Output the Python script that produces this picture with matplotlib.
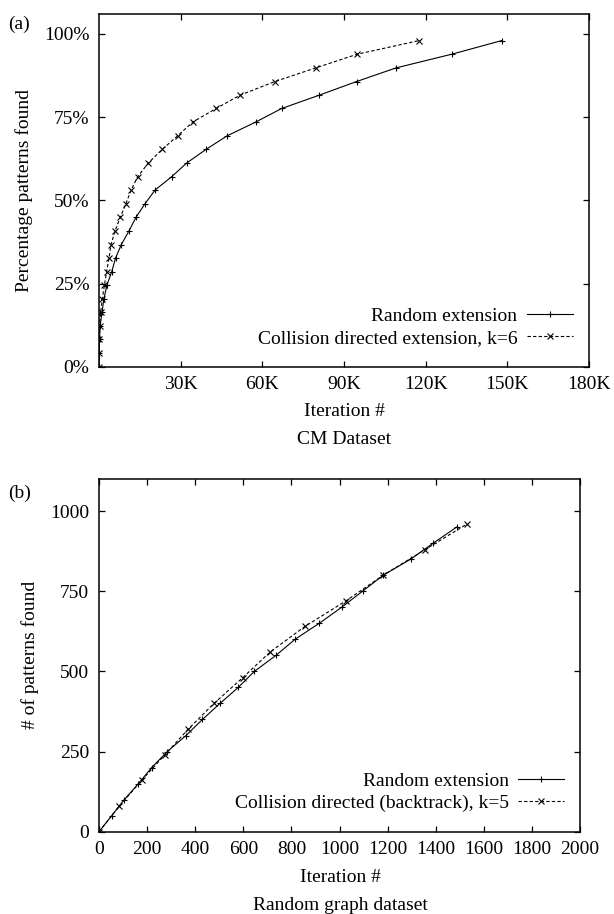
import matplotlib
matplotlib.use('Agg')
import matplotlib.pyplot as plt

plt.rcParams['font.family'] = ['Liberation Serif', 'DejaVu Serif']
plt.rcParams['font.size'] = 14

# (a) CM dataset -- iterations (thousands) vs percentage of patterns found
cm_pct = [0, 4.1, 8.2, 12.2, 16.3, 20.4, 24.5, 28.6, 32.7, 36.7, 40.8, 44.9, 49.0,
          53.1, 57.1, 61.2, 65.3, 69.4, 73.5, 77.6, 81.6, 85.7, 89.8, 93.9, 98.0]
cm_random_k = [0, 0.1, 0.2, 0.4, 1.1, 1.8, 2.9, 4.7, 6.1, 8.2, 11.0, 13.6, 16.9,
               20.6, 26.7, 32.2, 39.3, 47.1, 57.5, 67.1, 80.9, 94.6, 109.1, 129.5, 147.9]
cm_collision_k = [0, 0.05, 0.15, 0.25, 0.6, 1.2, 2.0, 2.8, 3.7, 4.4, 5.9, 7.8, 9.9,
                  11.8, 14.2, 18.1, 23.2, 28.9, 34.4, 43.0, 51.8, 64.6, 79.6, 94.8, 117.5]
cm_xticks = [30, 60, 90, 120, 150, 180]
cm_xticklabels = ['30K', '60K', '90K', '120K', '150K', '180K']
cm_yticks = [0, 25, 50, 75, 100]
cm_yticklabels = ['0%', '25%', '50%', '75%', '100%']

# (b) random graph dataset
rg_random_x = [0, 53, 105, 164, 219, 284, 362, 430, 503, 579, 646, 736, 815, 916,
               1009, 1096, 1182, 1296, 1390, 1487]
rg_random_y = [0, 50, 100, 150, 200, 250, 300, 350, 400, 450, 500, 550, 600, 650,
               700, 750, 800, 850, 900, 950]
rg_collision_x = [0, 85, 177, 274, 371, 478, 597, 711, 856, 1027, 1182, 1356, 1531]
rg_collision_y = [0, 80, 160, 240, 320, 400, 480, 560, 640, 720, 800, 880, 960]
rg_xticks = [0, 200, 400, 600, 800, 1000, 1200, 1400, 1600, 1800, 2000]
rg_yticks = [0, 250, 500, 750, 1000]

W, H = 614, 914


def px_box(left, top, right, bottom):
    return [left / W, 1 - bottom / H, (right - left) / W, (bottom - top) / H]


def style_axes(ax):
    for sp in ax.spines.values():
        sp.set_linewidth(1.1)
    ax.tick_params(direction='in', length=4, width=0.9, top=True, right=True,
                   labelsize=14, pad=7)


def draw_series(ax, x1, y1, x2, y2, lab1, lab2):
    ax.plot(x1, y1, color='black', lw=0.8, marker='+', ms=5, mew=0.8, label=lab1)
    ax.plot(x2, y2, color='black', lw=0.8, ls=(0, (3, 2)), marker='x', ms=4.5,
            mew=0.8, label=lab2)
    ax.legend(loc='lower right', bbox_to_anchor=(0.967, 0.055), frameon=False,
              markerfirst=False, handlelength=2.35, handletextpad=0.5,
              labelspacing=0.25, borderpad=0, borderaxespad=0, fontsize=14)


fig = plt.figure(figsize=(W / 100, H / 100), dpi=100)

ax1 = fig.add_axes(px_box(99, 14, 589, 366.7))
draw_series(ax1, cm_random_k, cm_pct, cm_collision_k, cm_pct,
            'Random extension', 'Collision directed extension, k=6')
ax1.set_xlim(0, 180)
ax1.set_ylim(0, 106)
ax1.set_xticks(cm_xticks)
ax1.set_xticklabels(cm_xticklabels)
ax1.set_yticks(cm_yticks)
ax1.set_yticklabels(cm_yticklabels)
style_axes(ax1)
ax1.set_ylabel('Percentage patterns found', fontsize=14, labelpad=8)

ax2 = fig.add_axes(px_box(99, 479, 580, 831.7))
draw_series(ax2, rg_random_x, rg_random_y, rg_collision_x, rg_collision_y,
            'Random extension', 'Collision directed (backtrack), k=5')
ax2.set_xlim(0, 2000)
ax2.set_ylim(0, 1100)
ax2.set_xticks(rg_xticks)
ax2.set_yticks(rg_yticks)
style_axes(ax2)
ax2.set_ylabel('# of patterns found', fontsize=14, labelpad=8)

# labels under each panel and panel letters
fig.text(344 / W, 1 - 411 / H, 'Iteration #', ha='center', va='center', fontsize=14)
fig.text(344 / W, 1 - 439 / H, 'CM Dataset', ha='center', va='center', fontsize=14)
fig.text(340 / W, 1 - 878 / H, 'Iteration #', ha='center', va='center', fontsize=14)
fig.text(340 / W, 1 - 905 / H, 'Random graph dataset', ha='center', va='center', fontsize=14)
fig.text(8 / W, 1 - 24 / H, '(a)', ha='left', va='center', fontsize=14)
fig.text(8 / W, 1 - 493 / H, '(b)', ha='left', va='center', fontsize=14)

fig.savefig('out.png', dpi=100)
